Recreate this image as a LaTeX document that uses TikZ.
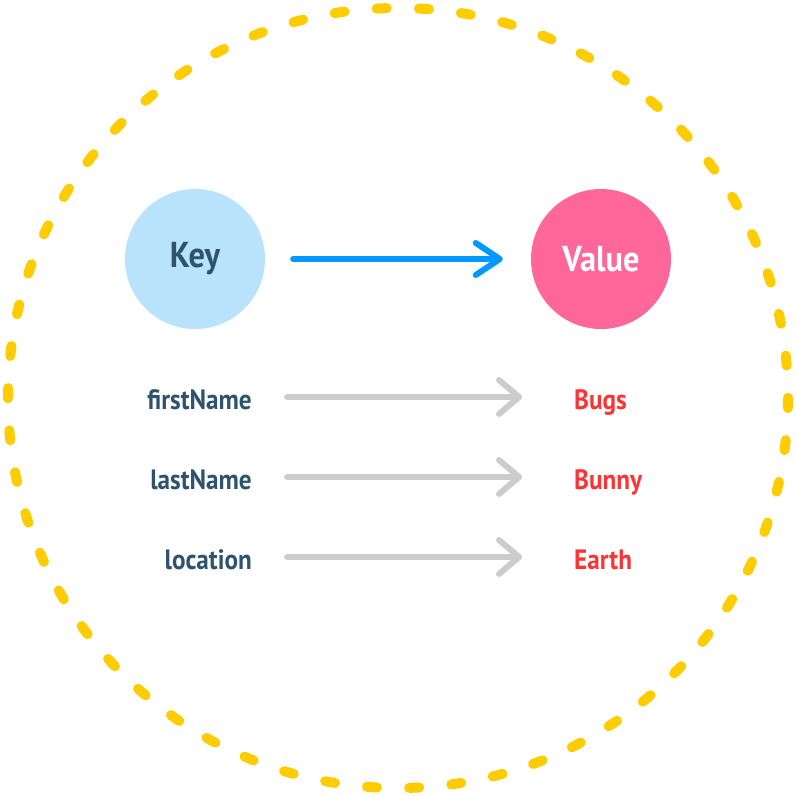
\documentclass[tikz,border=0pt]{standalone}
\usepackage{fontspec}
\setmainfont{PT Sans}[BoldFeatures={FakeStretch=0.9}]
\usepackage{xcolor}
\usetikzlibrary{arrows.meta}

\definecolor{ringyellow}{HTML}{FFCC00}
\definecolor{keyblue}{HTML}{B9E2FD}
\definecolor{valpink}{HTML}{FF6699}
\definecolor{arrowblue}{HTML}{0099FF}
\definecolor{inkblue}{HTML}{2E5370}
\definecolor{valred}{HTML}{FF3333}
\definecolor{linegray}{HTML}{CCCCCC}

\tikzset{
  bubble/.style={circle, minimum size=140pt, inner sep=0pt, font=\bfseries\fontsize{36}{40}\selectfont},
  keytext/.style={anchor=east, inner sep=0pt, text height=30pt, text depth=6pt, text=inkblue, font=\bfseries\fontsize{28}{32}\selectfont},
  valtext/.style={anchor=west, inner sep=0pt, text height=30pt, text depth=6pt, text=valred, font=\bfseries\fontsize{28}{32}\selectfont},
  pairarrow/.style={draw=linegray, line width=6pt, line cap=round, -{Straight Barb[length=20pt, width=34pt, line cap=round, line join=round]}, shorten <=35pt, shorten >=52pt}
}

\begin{document}
\begin{tikzpicture}[x=1pt, y=-1pt]
	\useasboundingbox (0,0) rectangle (796,796);
	
	% Dashed ring
	\draw[ringyellow, line width=10pt, line cap=round, dash pattern=on 10pt off 32.25pt] (398,398) circle (390);
	
	% Key and value bubbles
	\node[bubble, fill=keyblue, text=inkblue] (key) at (195,259) {Key};
	\node[bubble, fill=valpink, text=white] (value) at (601,259) {Value};
	\draw[arrowblue, line width=6pt, line cap=round, -{Straight Barb[length=24pt, width=32pt, line cap=round, line join=round]}, shorten <=28pt, shorten >=28pt] (key) -- (value);
	
	% Pairs
	\node[keytext] (first) at (252,397) {firstName};
	\node[keytext] (last) at (252,477) {lastName};
	\node[keytext] (loc) at (252,557) {location};
	\node[valtext] (bugs) at (574,397) {Bugs};
	\node[valtext] (bunny) at (574,477) {Bunny};
	\node[valtext] (earth) at (574,557) {Earth};
	
	\draw[pairarrow] (first) -- (bugs);
	\draw[pairarrow] (last) -- (bunny);
	\draw[pairarrow] (loc) -- (earth);
\end{tikzpicture}
\end{document}
